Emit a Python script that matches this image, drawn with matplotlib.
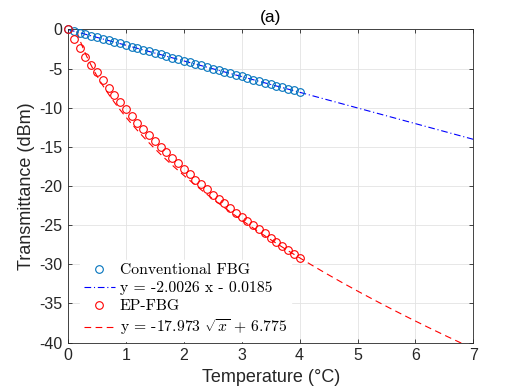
import numpy as np
import matplotlib
matplotlib.use("Agg")
import matplotlib.pyplot as plt

# temperature steps (degC)
temp = [round(0.1 * i, 1) for i in range(41)]

# conventional FBG transmittance (dBm)
conv = [0.0, -0.2, -0.4, -0.6, -0.8, -1.0, -1.2, -1.4, -1.6, -1.8,
        -2.0, -2.2, -2.4, -2.6, -2.8, -3.0, -3.2, -3.4, -3.6, -3.8,
        -4.0, -4.2, -4.4, -4.6, -4.8, -5.0, -5.2, -5.4, -5.6, -5.8,
        -6.0, -6.2, -6.4, -6.6, -6.8, -7.0, -7.2, -7.4, -7.6, -7.8, -8.0]

# EP-FBG transmittance (dBm)
ep = [0.0, -1.2, -2.4, -3.5, -4.5, -5.5, -6.5, -7.5, -8.4, -9.3,
      -10.2, -11.1, -11.9, -12.7, -13.5, -14.3, -15.0, -15.7, -16.4, -17.1,
      -17.8, -18.5, -19.2, -19.8, -20.4, -21.1, -21.7, -22.2, -22.8, -23.4,
      -23.9, -24.5, -25.0, -25.5, -26.0, -26.6, -27.1, -27.6, -28.2, -28.7, -29.2]

# fit coefficients from the legend
lin_a, lin_b = -2.0026, -0.0185
sq_a, sq_b = -17.973, 6.775

labels = ['Conventional FBG', 'y = -2.0026 x - 0.0185', 'EP-FBG',
          r'y = -17.973 $\sqrt{x}$ + 6.775']

plt.rcParams['font.family'] = ['Liberation Sans', 'DejaVu Sans']
plt.rcParams['mathtext.fontset'] = 'cm'

fig = plt.figure(figsize=(5.23, 3.92), dpi=100)
ax = fig.add_axes([0.130, 0.126, 0.775, 0.799])

xf = np.linspace(0, 7, 400)
ax.plot(temp, conv, 'o', mfc='none', mec=(0, 0.447, 0.741), ms=5.5, mew=0.8,
        label=labels[0], clip_on=False, zorder=3)
ax.plot(xf, lin_a * xf + lin_b, color='blue', lw=0.8, dashes=(6, 2.5, 1, 2.5),
        label=labels[1])
ax.plot(temp, ep, 'o', mfc='none', mec='red', ms=5.5, mew=0.8, label=labels[2],
        clip_on=False, zorder=3)
ax.plot(xf, sq_a * np.sqrt(xf) + sq_b, color='red', lw=0.8, dashes=(6, 4),
        label=labels[3])

ax.set_xlim(0, 7)
ax.set_ylim(-40, 0)
ax.set_xticks(range(0, 8))
ax.set_yticks(range(-40, 1, 5))
ax.set_yticklabels([str(v) for v in range(-40, 1, 5)])
ax.tick_params(direction='in', length=3, width=0.6, top=True, right=True,
               labelsize=11.5, colors='#262626', pad=4)
for s in ax.spines.values():
    s.set_color('#262626')
    s.set_linewidth(0.6)
ax.grid(True, color='#e3e3e3', lw=0.6)
ax.set_axisbelow(True)

ax.set_xlabel('Temperature (\u00b0C)', fontsize=13, color='#262626')
ax.set_ylabel('Transmittance (dBm)', fontsize=13, color='#262626', labelpad=3)
ax.set_title('(a)', fontsize=12.5, color='black', pad=5)

leg = ax.legend(loc='lower left', bbox_to_anchor=(0.025, 0.0),
                prop={'family': 'cmr10', 'size': 11.3}, frameon=True,
                framealpha=1, edgecolor='white', fancybox=False,
                handlelength=2.0, handletextpad=0.3, labelspacing=0.25,
                borderpad=0.25, borderaxespad=0.1)
leg.set_zorder(5)

fig.savefig('out.png', dpi=100)
